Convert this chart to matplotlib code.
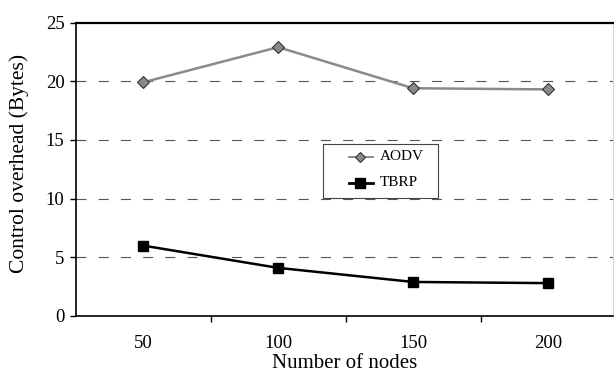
import matplotlib
matplotlib.use("Agg")
import matplotlib.pyplot as plt
from matplotlib.patches import Rectangle
from matplotlib.lines import Line2D
import numpy as np

nodes = ["50", "100", "150", "200"]
aodv = [19.9, 22.9, 19.4, 19.3]
tbrp = [6.0, 4.1, 2.9, 2.8]
yticks = [0, 5, 10, 15, 20, 25]
series_names = ["AODV", "TBRP"]

plt.rcParams['font.family'] = ['Liberation Serif', 'DejaVu Serif']

fig = plt.figure(figsize=(6.14, 3.72), dpi=100)
W, H = 614, 372
L, R, T, B = 75.5, 613, 22.5, 316
ax = fig.add_axes([L / W, (H - B) / H, (R - L) / W, (B - T) / H])

x = np.arange(len(nodes))
for v in yticks[1:-1]:
    ax.axhline(v, color='#555555', lw=0.8, ls=(0, (9, 11)), zorder=1)

aodv_style = dict(color='#8a8a8a', lw=1.8, marker='D', ms=6,
                  mfc='#8a8a8a', mec='#333333', mew=0.8)
tbrp_style = dict(color='black', lw=1.8, marker='s', ms=7.5,
                  mfc='black', mec='black')
ax.plot(x, aodv, zorder=3, **aodv_style)
ax.plot(x, tbrp, zorder=3, **tbrp_style)

ax.set_xlim(-0.5, 3.48)
ax.set_ylim(0, 25)
ax.set_yticks(yticks)
ax.set_yticklabels([str(v) for v in yticks], fontsize=13.5)
ax.set_xticks(x)
ax.set_xticklabels(nodes, fontsize=13.5)
ax.set_xticks([0.5, 1.5, 2.5], minor=True)
ax.tick_params(axis='x', which='major', length=0, pad=14)
ax.tick_params(axis='x', which='minor', length=4, direction='out', width=1)
ax.tick_params(axis='y', length=4, direction='out', width=1, pad=4)

ax.set_xlabel("Number of nodes", fontsize=15, labelpad=1)
ax.set_ylabel("Control overhead (Bytes)", fontsize=15.5)
ax.yaxis.set_label_coords(-0.087, 0.519)

for s in ['left', 'bottom']:
    ax.spines[s].set_linewidth(1.2)
ax.spines['top'].set_linewidth(1.6)
ax.spines['right'].set_color('#cccccc')
ax.spines['right'].set_linewidth(0.6)


def fx(px):
    return (px - L) / (R - L)


def fy(py):
    return (B - py) / (B - T)


# legend box
bx0, bx1, by0, by1 = fx(323), fx(438), fy(198), fy(144)
ax.add_patch(Rectangle((bx0, by0), bx1 - bx0, by1 - by0, transform=ax.transAxes,
                       facecolor='white', edgecolor='#444444', lw=0.8, zorder=5))
rows_y = [fy(157), fy(183)]
styles = [dict(aodv_style, ms=5, lw=1.4), dict(tbrp_style, ms=7, lw=2)]
for name, yy, st in zip(series_names, rows_y, styles):
    ax.add_line(Line2D([fx(349), fx(373)], [yy, yy], transform=ax.transAxes,
                       zorder=6, **{k: v for k, v in st.items() if k != 'marker'}))
    ax.add_line(Line2D([fx(360)], [yy], transform=ax.transAxes, zorder=7,
                       linestyle='none',
                       **{k: v for k, v in st.items() if k not in ('lw', 'color')}))
    ax.text(fx(380), yy, name, transform=ax.transAxes, fontsize=11,
            va='center', ha='left', zorder=7)

fig.savefig("out.png", dpi=100)
